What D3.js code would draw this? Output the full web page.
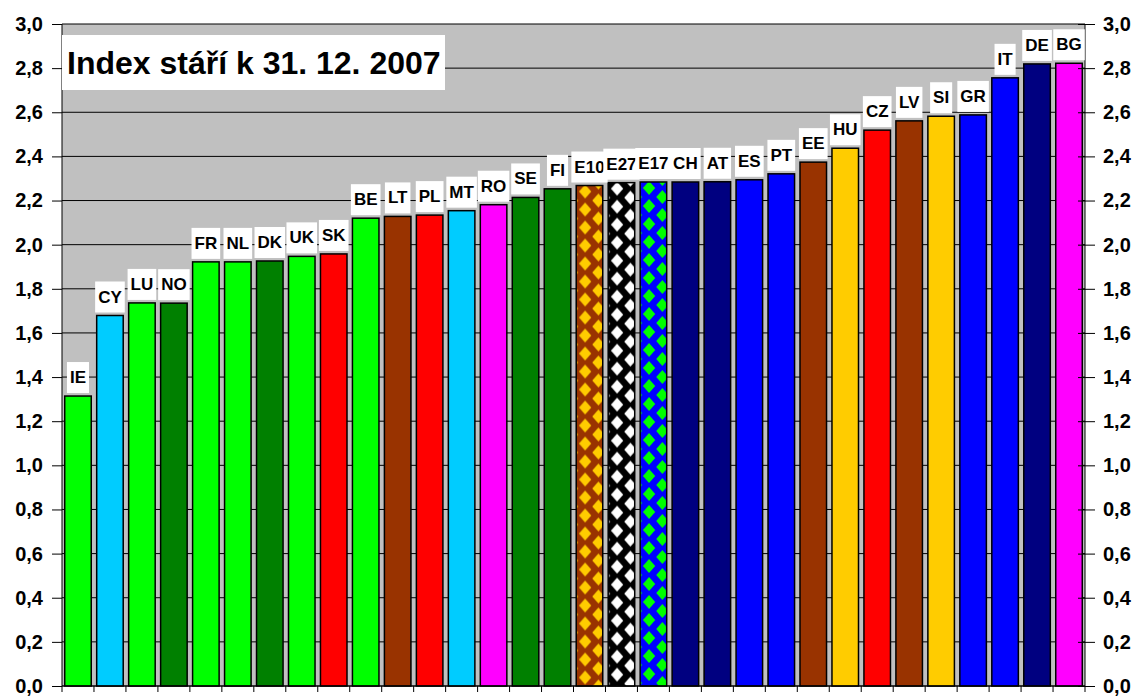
<!DOCTYPE html>
<html>
<head>
<meta charset="utf-8">
<script src="https://cdn.jsdelivr.net/npm/d3@7"></script>
<style>
  body { margin: 0; background: #fff; }
  text { font-family: "Liberation Sans", Arial, sans-serif; font-weight: bold; }
</style>
</head>
<body>
<svg id="chart" width="1141" height="697"></svg>
<script>
// data
const countries = ["IE", "CY", "LU", "NO", "FR", "NL", "DK", "UK", "SK", "BE", "LT", "PL", "MT", "RO", "SE", "FI",
    "E10", "E27", "E17", "CH", "AT", "ES", "PT", "EE", "HU", "CZ", "LV", "SI", "GR", "IT", "DE", "BG"];
const indexValues = [1.314, 1.679, 1.736, 1.735, 1.922, 1.922, 1.926, 1.947, 1.958, 2.120, 2.128, 2.134, 2.154, 2.181, 2.214, 2.253,
    2.268, 2.281, 2.284, 2.284, 2.285, 2.294, 2.321, 2.374, 2.437, 2.519, 2.561, 2.582, 2.588, 2.756, 2.819, 2.822];
const barFills = ["#00ff00", "#00ccff", "#00ff00", "#008000", "#00ff00", "#00ff00", "#008000", "#00ff00", "#ff0000",
    "#00ff00", "#993300", "#ff0000", "#00ccff", "#ff00ff", "#008000", "#008000",
    "url(#pat-E10)", "url(#pat-E27)", "url(#pat-E17)", "#000080", "#000080", "#0000ff", "#0000ff", "#993300",
    "#ffcc00", "#ff0000", "#993300", "#ffcc00", "#0000ff", "#0000ff", "#000080", "#ff00ff"];
const yTicks = [0, 0.2, 0.4, 0.6, 0.8, 1.0, 1.2, 1.4, 1.6, 1.8, 2.0, 2.2, 2.4, 2.6, 2.8, 3.0];
const patterns = [
    {id: "pat-E10", bg: "#993300", fg: "#ffcc00"},
    {id: "pat-E27", bg: "#000000", fg: "#ffffff"},
    {id: "pat-E17", bg: "#0000ff", fg: "#00ff00"}
];
const title = "Index stáří k 31. 12. 2007";

const margin = {top: 24, right: 56, bottom: 11, left: 62};
const width = 1141 - margin.left - margin.right;
const height = 697 - margin.top - margin.bottom;

let svg = d3.select('#chart');
let plot = svg.append('g')
    .attr('transform', 'translate(' + margin.left + ',' + margin.top + ')');

let x = d3.scaleBand().domain(countries).range([0, width]).paddingInner(0.17).paddingOuter(0.085);
let y = d3.scaleLinear().domain([0, 3]).range([height, 0]);

plot.append('rect')
    .attr('width', width).attr('height', height)
    .attr('fill', '#c0c0c0');

// grid
plot.append('g').selectAll('line').data(yTicks).join('line')
    .attr('x1', 0).attr('x2', width)
    .attr('y1', d => y(d)).attr('y2', d => y(d))
    .attr('stroke', '#000').attr('stroke-width', 1);

// diamond patterns, one per patterned bar so they line up with the bar edges
let defs = svg.append('defs');
countries.forEach((c, i) => {
    let p = patterns.find(q => q.id === 'pat-' + c);
    if (!p) return;
    let bw = x.bandwidth();
    let ph = 18;
    let pat = defs.append('pattern')
        .attr('id', p.id)
        .attr('patternUnits', 'userSpaceOnUse')
        .attr('x', margin.left + x(c)).attr('y', margin.top + y(indexValues[i]))
        .attr('width', bw).attr('height', ph);
    pat.append('rect').attr('width', bw).attr('height', ph).attr('fill', p.bg);
    let hw = bw / 4 - 0.5, hh = ph / 2 - 2;
    let centers = [[bw / 2, ph / 2], [0, 0], [bw, 0], [0, ph], [bw, ph]];
    centers.forEach(([cx, cy]) => {
        pat.append('path')
            .attr('d', `M${cx - hw},${cy}L${cx},${cy - hh}L${cx + hw},${cy}L${cx},${cy + hh}Z`)
            .attr('fill', p.fg);
    });
});

// bars
plot.append('g').selectAll('rect').data(countries).join('rect')
    .attr('x', d => x(d))
    .attr('y', (d, i) => y(indexValues[i]))
    .attr('width', x.bandwidth())
    .attr('height', (d, i) => height - y(indexValues[i]))
    .attr('fill', (d, i) => barFills[i])
    .attr('stroke', '#000').attr('stroke-width', 1.5);

// axes
let fmt = d => d3.format('.1f')(d).replace('.', ',');
let yLeft = d3.axisLeft(y).tickValues(yTicks).tickSize(10).tickPadding(9).tickFormat(fmt);
let gl = plot.append('g').call(yLeft);
gl.select('.domain').attr('d', 'M0,0V' + height).attr('stroke', '#000');
gl.selectAll('text').attr('font-size', 20).attr('fill', '#000')
    .attr('font-family', '"Liberation Sans", Arial, sans-serif');

let yRight = d3.axisRight(y).tickValues(yTicks).tickSize(10).tickPadding(8).tickFormat(fmt);
let gr = plot.append('g').attr('transform', 'translate(' + width + ',0)').call(yRight);
gr.select('.domain').attr('d', 'M0,0V' + height).attr('stroke', '#000');
gr.selectAll('.tick line').attr('x1', -7);
gr.selectAll('text').attr('font-size', 20).attr('fill', '#000')
    .attr('font-family', '"Liberation Sans", Arial, sans-serif');

// bottom axis with ticks at category boundaries
let xAxis = plot.append('g').attr('transform', 'translate(0,' + height + ')');
xAxis.append('line').attr('x1', 0).attr('x2', width).attr('stroke', '#000');
xAxis.selectAll('line.tk').data(d3.range(countries.length + 1)).join('line')
    .attr('class', 'tk')
    .attr('x1', i => i * x.step()).attr('x2', i => i * x.step())
    .attr('y1', 0).attr('y2', 6)
    .attr('stroke', '#000');

// data labels on white boxes
let labels = plot.append('g').selectAll('g').data(countries).join('g')
    .attr('transform', (d, i) => 'translate(' + (x(d) + x.bandwidth() / 2) + ',' + (y(indexValues[i]) - 3) + ')');
labels.append('rect').attr('fill', '#fff');
labels.append('text')
    .attr('text-anchor', 'middle')
    .attr('y', -10)
    .attr('font-size', 17)
    .attr('fill', '#000')
    .text(d => d);
labels.each(function () {
    let t = d3.select(this).select('text');
    let w = t.node().getComputedTextLength() + 6;
    d3.select(this).select('rect')
        .attr('x', -w / 2).attr('y', -31).attr('width', w).attr('height', 31);
});

// title box
let tg = plot.append('g');
tg.append('rect').attr('x', 0).attr('y', 11).attr('width', 383).attr('height', 55).attr('fill', '#fff');
tg.append('text').attr('x', 5).attr('y', 50).attr('font-size', 32).attr('fill', '#000').text(title);
</script>
</body>
</html>
